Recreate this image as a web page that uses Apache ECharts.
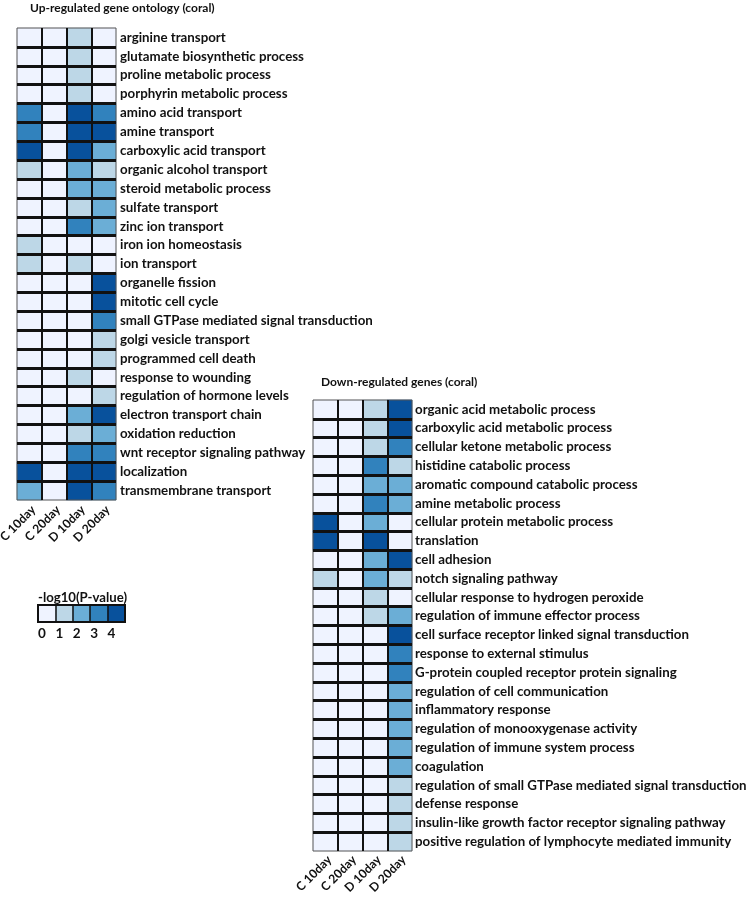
<!DOCTYPE html>
<html><head><meta charset="utf-8">
<script src="https://cdn.jsdelivr.net/npm/echarts@6/dist/echarts.min.js"></script>
<style>html,body{margin:0;padding:0;background:#fff}#c{width:750px;height:901px}</style>
</head><body><div id="c"></div>
<script>
const columns = ['C 10day', 'C 20day', 'D 10day', 'D 20day'];

const upTerms = ['arginine transport', 'glutamate biosynthetic process', 'proline metabolic process',
  'porphyrin metabolic process', 'amino acid transport', 'amine transport', 'carboxylic acid transport',
  'organic alcohol transport', 'steroid metabolic process', 'sulfate transport', 'zinc ion transport',
  'iron ion homeostasis', 'ion transport', 'organelle fission', 'mitotic cell cycle',
  'small GTPase mediated signal transduction', 'golgi vesicle transport', 'programmed cell death',
  'response to wounding', 'regulation of hormone levels', 'electron transport chain',
  'oxidation reduction', 'wnt receptor signaling pathway', 'localization', 'transmembrane transport'];
const upC10 = [0,0,0,0,3,3,4,1,0,0,0,1,1,0,0,0,0,0,0,0,0,0,0,4,2];
const upC20 = [0,0,0,0,0,0,0,0,0,0,0,0,0,0,0,0,0,0,0,0,0,0,0,0,0];
const upD10 = [1,1,1,1,4,4,4,2,2,1,3,0,1,0,0,0,0,0,1,0,2,1,3,4,4];
const upD20 = [0,0,0,0,3,4,2,1,2,2,2,0,0,4,4,3,1,1,0,1,4,2,3,4,3];

const downTerms = ['organic acid metabolic process', 'carboxylic acid metabolic process',
  'cellular ketone metabolic process', 'histidine catabolic process', 'aromatic compound catabolic process',
  'amine metabolic process', 'cellular protein metabolic process', 'translation', 'cell adhesion',
  'notch signaling pathway', 'cellular response to hydrogen peroxide', 'regulation of immune effector process',
  'cell surface receptor linked signal transduction', 'response to external stimulus',
  'G-protein coupled receptor protein signaling', 'regulation of cell communication', 'inflammatory response',
  'regulation of monooxygenase activity', 'regulation of immune system process', 'coagulation',
  'regulation of small GTPase mediated signal transduction', 'defense response',
  'insulin-like growth factor receptor signaling pathway', 'positive regulation of lymphocyte mediated immunity'];
const downC10 = [0,0,0,0,0,0,4,4,0,1,0,0,0,0,0,0,0,0,0,0,0,0,0,0];
const downC20 = [0,0,0,0,0,0,0,0,0,0,0,0,0,0,0,0,0,0,0,0,0,0,0,0];
const downD10 = [1,1,1,3,2,3,2,4,2,2,1,1,0,0,0,0,0,0,0,0,0,0,0,0];
const downD20 = [4,4,3,1,2,2,0,0,4,1,0,2,4,3,3,2,2,2,2,2,1,1,1,1];

const legendLevels = [0, 1, 2, 3, 4];
const legendTickLabels = ['0', '1', '2', '3', '4'];
const palette = ['#eff3ff', '#bdd7e7', '#6baed6', '#3182bd', '#08519c'];

function build(cols) {
  const out = [];
  cols.forEach((arr, i) => arr.forEach((v, j) => out.push([i, j, v])));
  return out;
}
const upData = build([upC10, upC20, upD10, upD20]);
const downData = build([downC10, downC20, downD10, downD20]);
const legendData = legendLevels.map((v, i) => [i, 0, v]);

const FONT = 'Lato';
const labelStyle = { color: '#111', fontWeight: 'bold', fontFamily: FONT, fontSize: 13.3 };
const xLabelStyle = { color: '#111', fontWeight: 'bold', fontFamily: FONT, fontSize: 12.2, padding: [0, -6, 0, 0] };

function splitL(w) {
  return { show: true, showMinLine: false, showMaxLine: false, lineStyle: { color: '#111', width: w } };
}
const gridBase = { show: true, z: 10, backgroundColor: 'transparent', containLabel: false, outerBoundsMode: 'none' };

const chart = echarts.init(document.getElementById('c'), null, { renderer: 'canvas' });
chart.setOption({
  animation: false,
  backgroundColor: '#fff',
  title: [
    { text: 'Up-regulated gene ontology (coral)', left: 30, top: 2, padding: 0,
      textStyle: { fontSize: 12, fontWeight: 'bold', fontFamily: FONT, color: '#111' } },
    { text: 'Down-regulated genes (coral)', left: 321, top: 376, padding: 0,
      textStyle: { fontSize: 12, fontWeight: 'bold', fontFamily: FONT, color: '#111' } },
    { text: '-log10(P-value)', left: 38, top: 591, padding: 0,
      textStyle: { fontSize: 13.2, fontWeight: 'bold', fontFamily: FONT, color: '#111' } }
  ],
  visualMap: {
    type: 'piecewise', show: false, seriesIndex: [0, 1, 2], dimension: 2,
    pieces: legendLevels.map((v, i) => ({ value: v, color: palette[i] }))
  },
  grid: [
    Object.assign({ left: 17, top: 28, width: 99, height: 472, borderColor: '#555', borderWidth: 1 }, gridBase),
    Object.assign({ left: 313, top: 400, width: 99, height: 451, borderColor: '#555', borderWidth: 1 }, gridBase),
    Object.assign({ left: 38, top: 605, width: 87, height: 17, borderColor: '#111', borderWidth: 2 }, gridBase)
  ],
  xAxis: [
    { type: 'category', gridIndex: 0, data: columns, z: 10, axisLine: { show: false }, axisTick: { show: false },
      splitLine: splitL(2), axisLabel: Object.assign({ rotate: 45, margin: 12, interval: 0 }, xLabelStyle) },
    { type: 'category', gridIndex: 1, data: columns, z: 10, axisLine: { show: false }, axisTick: { show: false },
      splitLine: splitL(2), axisLabel: Object.assign({ rotate: 45, margin: 11, interval: 0 }, xLabelStyle) },
    { type: 'category', gridIndex: 2, data: legendLevels, z: 10, axisLine: { show: false }, axisTick: { show: false },
      splitLine: splitL(1.5), axisLabel: { show: false } },
    { type: 'value', gridIndex: 2, min: 0, max: 5, interval: 1, position: 'bottom', z: 10,
      axisLine: { show: false }, axisTick: { show: false }, splitLine: { show: false },
      axisLabel: Object.assign({ margin: 5, align: 'left',
        formatter: v => (legendTickLabels[v] !== undefined ? legendTickLabels[v] : '') }, labelStyle, { fontSize: 13.5 }) }
  ],
  yAxis: [
    { type: 'category', gridIndex: 0, data: upTerms, inverse: true, position: 'right', z: 10,
      axisLine: { show: false }, axisTick: { show: false }, splitLine: splitL(3),
      axisLabel: Object.assign({ margin: 4, interval: 0, align: 'left' }, labelStyle) },
    { type: 'category', gridIndex: 1, data: downTerms, inverse: true, position: 'right', z: 10,
      axisLine: { show: false }, axisTick: { show: false }, splitLine: splitL(3),
      axisLabel: Object.assign({ margin: 3, interval: 0, align: 'left' }, labelStyle) },
    { type: 'category', gridIndex: 2, data: ['l'], axisLine: { show: false }, axisTick: { show: false },
      splitLine: { show: false }, axisLabel: { show: false } }
  ],
  series: [
    { type: 'heatmap', xAxisIndex: 0, yAxisIndex: 0, data: upData, itemStyle: { borderWidth: 0 } },
    { type: 'heatmap', xAxisIndex: 1, yAxisIndex: 1, data: downData, itemStyle: { borderWidth: 0 } },
    { type: 'heatmap', xAxisIndex: 2, yAxisIndex: 2, data: legendData, itemStyle: { borderWidth: 0 } }
  ]
});
</script></body></html>
